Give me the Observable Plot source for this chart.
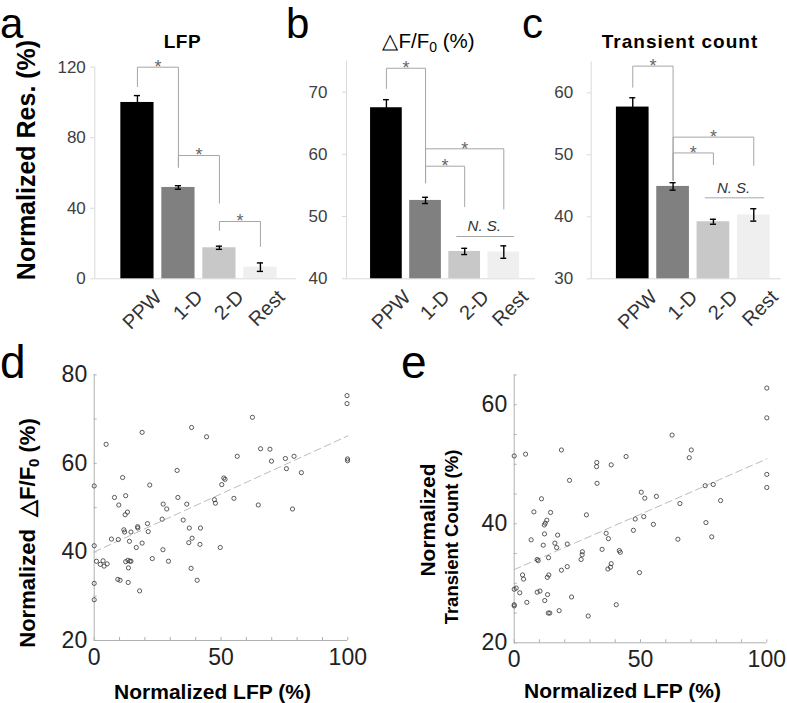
<!DOCTYPE html>
<html><head><meta charset="utf-8">
<script src="https://cdn.jsdelivr.net/npm/d3@7"></script>
<script src="https://cdn.jsdelivr.net/npm/@observablehq/plot@0.6"></script>
<style>
body{margin:0;background:#fff;}
#root{position:relative;width:787px;height:703px;overflow:hidden;font-family:"Liberation Sans",Arial,Helvetica,sans-serif;background:#fff;}
#root svg{position:absolute;left:0;top:0;max-width:none;}
.lbl{position:absolute;white-space:nowrap;color:#000;line-height:1;}
.lbl.big{line-height:0.72;}
.lbl sub{font-size:0.68em;vertical-align:-0.3em;line-height:0;}
</style></head><body><div id="root"></div>
<script>
// ---------- data ----------
const categories = ["PPW", "1-D", "2-D", "Rest"];
const barColors = ["#000000", "#808080", "#c8c8c8", "#efefef"];

const lfpMean = [100, 51.8, 17.6, 6.6];
const lfpErr = [3.9, 1.0, 0.9, 2.4];
const dffMean = [67.5, 52.6, 44.4, 44.3];
const dffErr = [1.3, 0.5, 0.5, 1.0];
const countMean = [57.7, 44.9, 39.2, 40.3];
const countErr = [1.5, 0.6, 0.4, 1.0];

const lfpBrackets = [
  {from: "PPW", to: "1-D", top: 120, left: 109, right: 63.3},
  {from: "1-D", to: "2-D", top: 69.9, left: 63.3, right: 42.9},
  {from: "2-D", to: "Rest", top: 32.5, left: 27.4, right: 18.3}
];
const dffBrackets = [
  {from: "PPW", to: "1-D", top: 73.85, left: 70.6, right: 55.4},
  {from: "1-D", to: "Rest", top: 60.9, left: 55.5, right: 51.2},
  {from: "1-D", to: "2-D", top: 58.1, left: 55.5, right: 51.6}
];
const countBrackets = [
  {from: "PPW", to: "1-D", top: 64.3, left: 60.9, right: 45.9},
  {from: "1-D", to: "Rest", top: 52.85, left: 45.9, right: 48.3},
  {from: "1-D", to: "2-D", top: 50.3, left: 45.9, right: 48.4}
];
const nsLabel = "N. S.";
const dffNS = {from: "2-D", to: "Rest", y: 46.8};
const countNS = {from: "2-D", to: "Rest", y: 43.06};
const sigLabel = "*";

const lfpTicks = [0, 40, 80, 120];
const dffTicks = [40, 50, 60, 70];
const countTicks = [30, 40, 50, 60];

// scatter d: [Normalized LFP, Normalized dF/F0]
const scatterD = [[0,54.9],[0,41.4],[0,32.9],[0,29.2],[0.9,37.9],[2.4,37.2],[3.5,38.0],[3.9,36.8],[5.1,37.3],[4.7,64.3],
[6.8,42.9],[8.0,52.3],[9.5,42.8],[9.7,50.6],[9.3,33.8],[10.2,33.6],[11.2,56.8],[11.7,45.0],[12.0,44.5],[12.4,52.7],
[12.2,48.4],[13.1,49.0],[12.4,37.8],[13.3,38.1],[14.1,37.9],[14.5,37.9],[13.5,36.4],[13.4,33.1],[13.9,42.4],[14.5,44.5],
[16.6,41.0],[17.1,45.7],[17.2,45.4],[17.9,31.2],[18.9,67.0],[18.9,42.0],[21.0,46.4],[21.3,44.6],[21.9,55.1],[22.9,38.5],
[26.8,47.4],[27.1,40.5],[27.2,50.8],[28.6,49.7],[29.3,37.9],[32.7,58.4],[33.0,52.3],[35.1,47.2],[36.5,50.8],[37.5,45.4],
[37.3,42.1],[38.4,68.1],[38.2,36.3],[38.6,43.1],[40.6,33.6],[41.7,41.7],[41.9,45.4],[44.3,66.0],[47.4,51.8],[47.8,51.0],
[49.7,41.0],[50.3,55.2],[51.1,56.7],[51.6,56.4],[55.1,52.1],[56.4,61.6],[62.4,70.4],[64.7,50.6],[65.6,63.3],[69.3,63.2],
[69.9,60.5],[75.4,61.1],[75.8,58.8],[78.2,49.7],[78.8,61.6],[81.7,57.9],[99.7,75.3],[99.7,73.5],[99.9,61.0],[99.9,60.6]];
const trendD = [[0, 40.0], [100, 66.2]];

// scatter e: [Normalized LFP, Normalized transient count]
const scatterE = [[0,51.4],[0,26.4],[0,26.2],[0,29.0],[0.8,29.2],[2.2,28.4],[3.3,31.4],[3.7,30.7],[4.5,51.7],[5.0,26.8],
[6.7,37.3],[7.8,42.0],[9.1,34.0],[9.5,33.8],[9.1,28.5],[10.2,28.7],[10.8,44.2],[11.5,36.4],[12.0,38.3],[11.9,39.8],
[12.3,40.1],[12.9,40.6],[12.1,27.1],[13.2,28.1],[13.1,31.0],[13.7,31.4],[13.6,34.3],[13.5,25.0],[14.1,25.0],[14.4,41.9],
[16.1,36.75],[16.8,36.0],[17.2,38.1],[17.8,25.4],[18.7,52.4],[18.7,32.2],[21.0,36.6],[21.0,32.8],[21.9,47.3],[22.7,27.7],
[26.5,34.0],[26.9,34.8],[27.0,35.3],[28.6,41.5],[29.3,24.5],[32.6,49.6],[32.7,50.3],[32.8,46.8],[34.8,35.7],[36.4,38.4],
[37.3,37.5],[37.1,32.4],[38.1,32.7],[38.4,33.3],[38.4,49.9],[41.6,35.5],[42.0,35.2],[40.4,26.4],[44.3,51.3],[47.2,38.9],
[47.9,40.8],[49.6,31.8],[50.3,45.3],[51.7,44.3],[51.3,41.2],[55.1,39.9],[56.3,44.6],[62.5,54.9],[64.8,37.4],[65.6,43.4],
[69.3,51.1],[70.1,52.4],[75.6,46.4],[75.9,40.2],[78.2,37.8],[78.8,46.6],[81.7,43.9],[100,62.8],[100,57.8],[100,48.3],[100,46.1]];
const trendE = [[0, 32.3], [100, 50.9]];

const scatterXTicks = [0, 50, 100];
const scatterXMinor = [0, 10, 20, 30, 40, 50, 60, 70, 80, 90, 100];
const dYTicks = [20, 40, 60, 80];
const dYMinor = [20, 30, 40, 50, 60, 70, 80];
const eYTicks = [20, 40, 60];
const eYMinor = [20, 25, 30, 35, 40, 45, 50, 55, 60, 65];

const panelLetters = ["a", "b", "c", "d", "e"];
const barTitles = ["LFP", "△F/F<sub>0</sub> (%)", "Transient count"];
const axisTitles = {
  a: "Normalized Res. (%)",
  d: "Normalized &nbsp;△F/F<sub>0</sub> (%)",
  e1: "Normalized",
  e2: "Transient Count (%)",
  lfp: "Normalized LFP (%)"
};

// ---------- drawing ----------
const FONT = '"Liberation Sans", Arial, Helvetica, sans-serif';
const W = 787, H = 703;
const root = document.getElementById("root");
const svgStyle = {background: "transparent", overflow: "visible", fontFamily: FONT, maxWidth: "none"};

function barPanel(p) {
  const idx = c => categories.indexOf(c);
  const bars = categories.map((c, i) => ({c, i, v: p.means[i], e: p.errs[i], fill: barColors[i]}));
  const pts = p.brackets.flatMap((b, k) => [
    {k, x: idx(b.from), y: b.left}, {k, x: idx(b.from), y: b.top},
    {k, x: idx(b.to), y: b.top}, {k, x: idx(b.to), y: b.right}
  ]);
  const stars = p.brackets.map(b => ({x: (idx(b.from) + idx(b.to)) / 2, y: b.top}));
  const y0 = p.yDomain[0];
  const hw = 0.405, cap = 0.075;
  const marks = [
    Plot.ruleY([y0], {stroke: "#d9d9d9", strokeWidth: 1}),
    Plot.ruleX([p.xDomain[0]], {stroke: "#d9d9d9", strokeWidth: 1}),
    Plot.axisY({ticks: p.yTicks, tickSize: 4, tickPadding: p.tickPadding, stroke: "#d9d9d9", fill: "#404040", fontSize: 17, label: null}),
    Plot.rect(bars, {x1: d => d.i - hw, x2: d => d.i + hw, y1: y0, y2: "v", fill: "fill"}),
    Plot.ruleX(bars, {x: "i", y1: d => d.v - d.e, y2: d => d.v + d.e, stroke: "#000", strokeWidth: 1.4}),
    Plot.ruleY(bars, {y: d => d.v + d.e, x1: d => d.i - cap, x2: d => d.i + cap, stroke: "#000", strokeWidth: 1.4}),
    Plot.ruleY(bars, {y: d => d.v - d.e, x1: d => d.i - cap, x2: d => d.i + cap, stroke: "#000", strokeWidth: 1.4}),
    Plot.line(pts, {x: "x", y: "y", z: "k", stroke: "#a6a6a6", strokeWidth: 1}),
    Plot.text(stars, {x: "x", y: "y", text: () => sigLabel, fontSize: 18, fill: "#666", lineAnchor: "middle"}),
    Plot.text(bars, {x: "i", y: y0, text: "c", rotate: -45, textAnchor: "end", lineAnchor: "middle", dx: 21, dy: 15, fontSize: 20, fill: "#333"})
  ];
  if (p.ns) {
    const ns = [p.ns];
    marks.push(
      Plot.ruleY(ns, {y: "y", x1: d => idx(d.from) - 0.2, x2: d => idx(d.to) + 0.27, stroke: "#a6a6a6", strokeWidth: 1}),
      Plot.text(ns, {x: d => (idx(d.from) + idx(d.to)) / 2, y: "y", text: () => nsLabel, fontStyle: "italic", fontSize: 15, fill: "#333", dy: -10})
    );
  }
  return Plot.plot({
    width: W, height: H,
    marginLeft: p.frame[0], marginRight: W - p.frame[1], marginTop: p.frame[2], marginBottom: H - p.frame[3],
    x: {domain: p.xDomain, axis: null},
    y: {domain: p.yDomain, axis: null},
    color: {type: "identity"},
    style: svgStyle,
    marks
  });
}

function scatterPanel(p) {
  return Plot.plot({
    width: W, height: H,
    marginLeft: p.frame[0], marginRight: W - p.frame[1], marginTop: p.frame[2], marginBottom: H - p.frame[3],
    x: {domain: [0, 100], axis: null},
    y: {domain: p.yDomain, axis: null},
    style: svgStyle,
    marks: [
      Plot.ruleX([0], {stroke: "#b0b0b0"}),
      Plot.ruleY([p.yDomain[0]], {stroke: "#b0b0b0"}),
      Plot.axisX({ticks: scatterXMinor, tickSize: -3, tickFormat: () => "", stroke: "#b0b0b0", label: null}),
      Plot.axisY({ticks: p.yMinor, tickSize: -3, tickFormat: () => "", stroke: "#b0b0b0", label: null}),
      Plot.axisX({ticks: scatterXTicks, tickSize: 0, tickPadding: 8, fontSize: 23, fill: "#222", label: null}),
      Plot.axisY({ticks: p.yTicks, tickSize: 0, tickPadding: 7, fontSize: 23, fill: "#222", label: null}),
      Plot.line(p.trend, {x: d => d[0], y: d => d[1], stroke: "#bdbdbd", strokeWidth: 1, strokeDasharray: "7,4"}),
      Plot.dot(p.data, {x: d => d[0], y: d => d[1], r: 2.1, stroke: "#333", strokeWidth: 0.8, fill: "none"})
    ]
  });
}

root.appendChild(barPanel({means: lfpMean, errs: lfpErr, brackets: lfpBrackets, yDomain: [0, 120], yTicks: lfpTicks,
  xDomain: [-1.04, 3.88], frame: [94.3, 296, 66.7, 278.3], tickPadding: 5}));
root.appendChild(barPanel({means: dffMean, errs: dffErr, brackets: dffBrackets, ns: dffNS, yDomain: [40, 75], yTicks: dffTicks,
  xDomain: [-1.02, 3.81], frame: [346, 535, 60.6, 278.3], tickPadding: 15}));
root.appendChild(barPanel({means: countMean, errs: countErr, brackets: countBrackets, ns: countNS, yDomain: [30, 65], yTicks: countTicks,
  xDomain: [-1.03, 3.68], frame: [590.7, 780.7, 61.3, 278.3], tickPadding: 14}));
root.appendChild(scatterPanel({data: scatterD, trend: trendD, yDomain: [20, 80], yTicks: dYTicks, yMinor: dYMinor,
  frame: [93.7, 347.3, 374.3, 640]}));
root.appendChild(scatterPanel({data: scatterE, trend: trendE, yDomain: [20, 65], yTicks: eYTicks, yMinor: eYMinor,
  frame: [513.7, 766.3, 374.5, 642.3]}));

// ---------- text labels ----------
function txt(html, x, cy, size, o = {}) {
  const d = document.createElement("div");
  d.className = "lbl" + (o.big ? " big" : "");
  d.innerHTML = html;
  d.style.left = x + "px";
  d.style.top = cy + "px";
  d.style.fontSize = size + "px";
  d.style.fontWeight = o.weight || "normal";
  if (o.spacing) d.style.letterSpacing = o.spacing + "px";
  const tx = o.anchor === "start" ? "0" : o.anchor === "end" ? "-100%" : "-50%";
  d.style.transform = `translate(${tx},-50%) rotate(${o.rotate || 0}deg)`;
  root.appendChild(d);
}
const LS = 42, base = b => b - 0.3465 * LS;
txt(panelLetters[0], 0, base(38.5), LS, {anchor: "start", big: true});
txt(panelLetters[1], 286, base(38.5), LS, {anchor: "start", big: true});
txt(panelLetters[2], 522, base(38.5), LS, {anchor: "start", big: true});
txt(panelLetters[3], 0, base(378), LS + 4, {anchor: "start", big: true});
txt(panelLetters[4], 401, base(378), LS + 4, {anchor: "start", big: true});

txt(barTitles[0], 182.5, 41, 19, {weight: "bold", spacing: 0.6});
txt(barTitles[1], 428.5, 41, 20.5);
txt(barTitles[2], 680, 41, 19, {weight: "bold", spacing: 1});

txt(axisTitles.a, 25.5, 160, 25, {weight: "bold", rotate: -90});
txt(axisTitles.d, 27.5, 533, 22, {weight: "bold", rotate: -90});
txt(axisTitles.e1, 427, 520, 21, {weight: "bold", rotate: -90});
txt(axisTitles.e2, 452, 537, 18.5, {weight: "bold", rotate: -90});
txt(axisTitles.lfp, 212.5, 691, 21, {weight: "bold"});
txt(axisTitles.lfp, 622.5, 690, 21, {weight: "bold"});
</script>
</body></html>
